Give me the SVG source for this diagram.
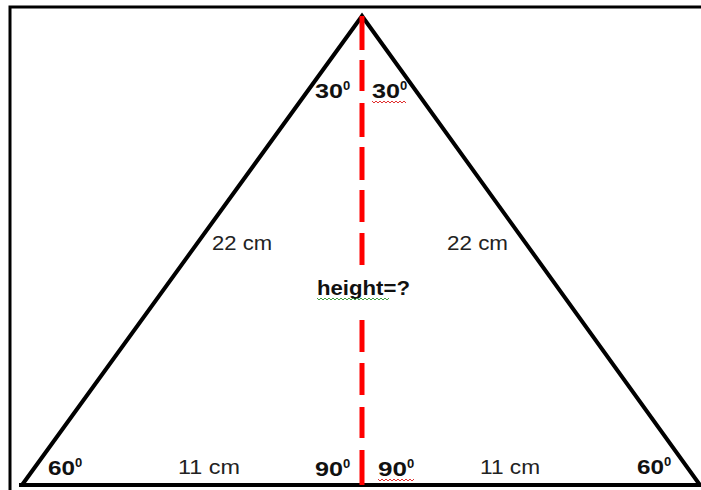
<svg xmlns="http://www.w3.org/2000/svg" width="701" height="490" viewBox="0 0 701 490">
  <style>
    .frame { stroke: #000; stroke-width: 3; fill: none; }
    .tri { stroke: #000; stroke-width: 4; fill: none; stroke-linejoin: miter; }
    .height { stroke: #ff0000; stroke-width: 5; fill: none; }
    .b { font-family: "Liberation Sans", Arial, sans-serif; font-weight: bold; font-size: 20px; fill: #111; }
    .sup { font-family: "Liberation Sans", Arial, sans-serif; font-weight: bold; font-size: 13px; fill: #111; }
    .n { font-family: "Liberation Sans", Arial, sans-serif; font-size: 20px; fill: #222; }
    .sq-red { stroke: #e03030; stroke-width: 1; fill: none; }
    .sq-green { stroke: #40a040; stroke-width: 1; fill: none; }
  </style>
  <rect width="701" height="490" fill="#fff"/>
  <g id="frame">
    <path class="frame" d="M10 490 V7 H701"/>
  </g>
  <g id="triangle">
    <path class="tri" d="M22 485 L362 16 L700 485"/>
    <path class="tri" d="M19 485 H701"/>
  </g>
  <g id="connectors">
    <path class="height" d="M362 16 V50 M362 60 V91 M362 103 V137 M362 147 V180 M362 190 V222 M362 233 V265 M362 320 V352 M362 363 V395 M362 407 V438 M362 450 V485"/>
  </g>
  <g id="labels">
    <text class="b" x="315" y="98" textLength="28" lengthAdjust="spacingAndGlyphs">30</text>
    <text class="sup" x="343" y="90">0</text>
    <text class="b" x="372" y="98" textLength="28" lengthAdjust="spacingAndGlyphs">30</text>
    <text class="sup" x="400" y="90">0</text>
    <path class="sq-red" d="M372 101 l2 2 l2 -2 l2 2 l2 -2 l2 2 l2 -2 l2 2 l2 -2 l2 2 l2 -2 l2 2 l2 -2 l2 2 l2 -2 l2 2 l2 -2 l2 2"/>

    <text class="n" x="212" y="250" textLength="60" lengthAdjust="spacingAndGlyphs">22 cm</text>
    <text class="n" x="447" y="250" textLength="61" lengthAdjust="spacingAndGlyphs">22 cm</text>

    <text class="b" x="317" y="295" textLength="93" lengthAdjust="spacingAndGlyphs">height=?</text>
    <path class="sq-green" d="M317 298 l2 2 l2 -2 l2 2 l2 -2 l2 2 l2 -2 l2 2 l2 -2 l2 2 l2 -2 l2 2 l2 -2 l2 2 l2 -2 l2 2 l2 -2 l2 2 l2 -2 l2 2 l2 -2 l2 2 l2 -2 l2 2 l2 -2 l2 2 l2 -2 l2 2 l2 -2 l2 2 l2 -2 l2 2 l2 -2 l2 2 l2 -2 l2 2 l2 -2"/>

    <text class="b" x="48" y="475" textLength="27" lengthAdjust="spacingAndGlyphs">60</text>
    <text class="sup" x="75" y="467">0</text>
    <text class="n" x="178" y="474" textLength="62" lengthAdjust="spacingAndGlyphs">11 cm</text>
    <text class="b" x="315" y="476" textLength="28" lengthAdjust="spacingAndGlyphs">90</text>
    <text class="sup" x="343" y="468">0</text>
    <text class="b" x="378" y="476" textLength="29" lengthAdjust="spacingAndGlyphs">90</text>
    <text class="sup" x="407" y="468">0</text>
    <path class="sq-red" d="M378 479 l2 2 l2 -2 l2 2 l2 -2 l2 2 l2 -2 l2 2 l2 -2 l2 2 l2 -2 l2 2 l2 -2 l2 2 l2 -2 l2 2 l2 -2 l2 2 l2 -2"/>
    <text class="n" x="480" y="474" textLength="60" lengthAdjust="spacingAndGlyphs">11 cm</text>
    <text class="b" x="637" y="474" textLength="27" lengthAdjust="spacingAndGlyphs">60</text>
    <text class="sup" x="664" y="466">0</text>
  </g>
</svg>
